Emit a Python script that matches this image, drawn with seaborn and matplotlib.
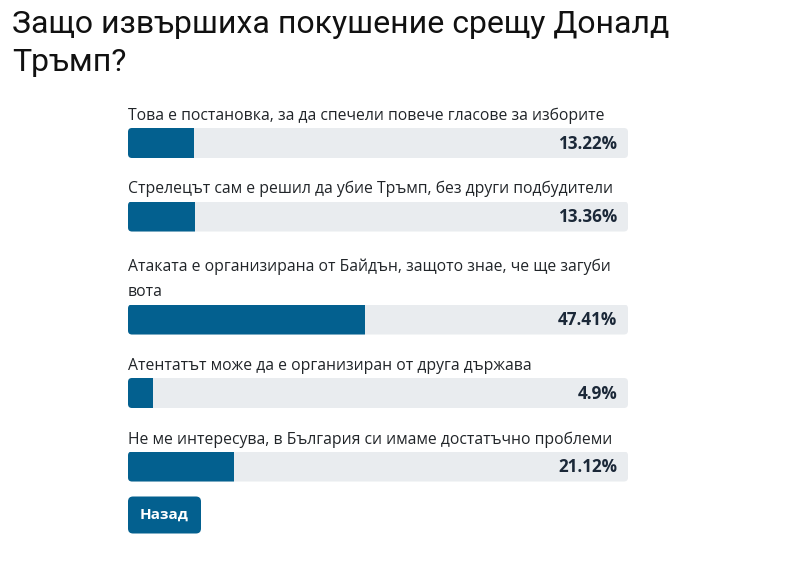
import textwrap
import seaborn as sns
import matplotlib.pyplot as plt
from matplotlib.patches import FancyBboxPatch

title = "Защо извършиха покушение срещу Доналд Тръмп?"
answers = [
    "Това е постановка, за да спечели повече гласове за изборите",
    "Стрелецът сам е решил да убие Тръмп, без други подбудители",
    "Атаката е организирана от Байдън, защото знае, че ще загуби вота",
    "Атентатът може да е организиран от друга държава",
    "Не ме интересува, в България си имаме достатъчно проблеми",
]
percents = [13.22, 13.36, 47.41, 4.9, 21.12]
total = 100
button_label = "Назад"

W, H = 795, 565
BLUE = "#03608f"
TRACK = "#e9ecef"
TEXT = "#212529"
DARK = "#1b2838"

sns.set_theme(style="white")
plt.rcParams["font.family"] = ["Open Sans", "DejaVu Sans"]

fig = plt.figure(figsize=(W / 100, H / 100), dpi=100)
fig.patch.set_facecolor("white")


def fx(px):
    return px / W


def fy(py):
    return 1 - py / H


# title, wrapped like the page does
for k, line in enumerate(textwrap.wrap(title, 40)):
    fig.text(fx(12), fy(33 + 38 * k), line, fontsize=23, color="#111111",
             va="baseline", ha="left", family=["Roboto", "DejaVu Sans"])

left, width, bar_h = 128, 500, 30
cursor = 128
for label, val in zip(answers, percents):
    lines = textwrap.wrap(label, 60)
    bar_top = cursor + 29.5 * (len(lines) - 1)
    for j, line in enumerate(lines):
        base = bar_top - 8 - 26 * (len(lines) - 1 - j)
        fig.text(fx(left), fy(base), line, fontsize=11.3, color=TEXT,
                 va="baseline", ha="left")

    ax = fig.add_axes([fx(left), fy(bar_top + bar_h), fx(width), bar_h / H])
    sns.barplot(x=[total], y=[0], orient="h", color=TRACK, saturation=1,
                width=1, linewidth=0, ax=ax)
    sns.barplot(x=[val], y=[0], orient="h", color=BLUE, saturation=1,
                width=1, linewidth=0, ax=ax)
    ax.set_xlim(0, total)
    ax.set_ylim(0.5, -0.5)
    ax.axis("off")

    # round the track corners and clip the value bar to it
    track, bar = ax.patches[0], ax.patches[1]
    rounded = FancyBboxPatch((track.get_x(), track.get_y()), track.get_width(),
                             track.get_height(),
                             boxstyle="round,pad=0,rounding_size=0.8",
                             mutation_aspect=(1 / bar_h) / (total / width),
                             fc=TRACK, ec="none", zorder=0)
    track.remove()
    ax.add_patch(rounded)
    bar.set_clip_path(rounded)

    ax.text((617 - left) / width, 0.47, f"{val:g}%", transform=ax.transAxes,
            ha="right", va="center", fontsize=12.3, fontweight="bold",
            color=DARK)
    cursor = bar_top + 73.5

# back button
btn_top = bar_top + bar_h + 15
bw, bh = 73, 37
bax = fig.add_axes([fx(left), fy(btn_top + bh), fx(bw), bh / H])
bax.axis("off")
bax.add_patch(FancyBboxPatch((0, 0), 1, 1, boxstyle=f"round,pad=0,rounding_size={5 / bw}",
                             mutation_aspect=bw / bh, transform=bax.transAxes,
                             fc=BLUE, ec="none", clip_on=False))
bax.text(0.5, 0.5, button_label, transform=bax.transAxes, ha="center",
         va="center", fontsize=11, fontweight="bold", color="white")

fig.savefig("out.png", dpi=100)
